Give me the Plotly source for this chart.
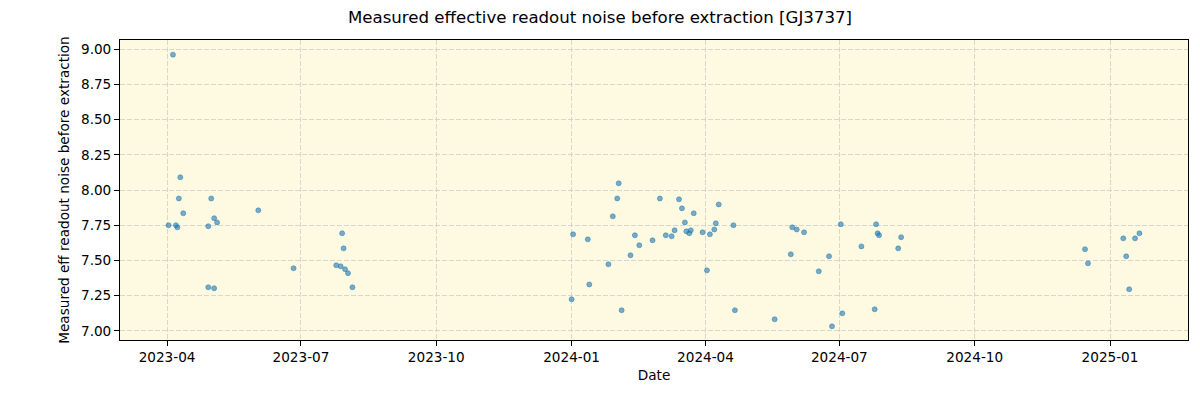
import plotly.graph_objects as go

dates = [
    "2023-04-05", "2023-04-10", "2023-04-09", "2023-05-01", "2023-04-12", "2023-04-02",
    "2023-04-07", "2023-04-08", "2023-04-29", "2023-05-03", "2023-05-05", "2023-06-02",
    "2023-04-29", "2023-05-03", "2023-06-26", "2023-07-29", "2023-07-30", "2023-07-25",
    "2023-07-28", "2023-07-31", "2023-08-02", "2023-08-05",
    "2024-01-02", "2024-01-01", "2024-01-12", "2024-01-13", "2024-01-26", "2024-01-29",
    "2024-02-01", "2024-02-02", "2024-02-04", "2024-02-10", "2024-02-13", "2024-02-16",
    "2024-02-25", "2024-03-01", "2024-03-05", "2024-03-09", "2024-03-11", "2024-03-14",
    "2024-03-16", "2024-03-18", "2024-03-19", "2024-03-21", "2024-03-22", "2024-03-24",
    "2024-03-30", "2024-04-02", "2024-04-04", "2024-04-07", "2024-04-08", "2024-04-10",
    "2024-04-20", "2024-04-21", "2024-05-18",
    "2024-05-30", "2024-06-02", "2024-06-07", "2024-05-29", "2024-06-24", "2024-06-17",
    "2024-07-02", "2024-06-26", "2024-07-03", "2024-07-16", "2024-07-25", "2024-07-26",
    "2024-07-27", "2024-07-28", "2024-08-12", "2024-08-10",
    "2024-12-15", "2024-12-17", "2025-01-10", "2025-01-12", "2025-01-14", "2025-01-18",
    "2025-01-21",
]
noise = [
    8.96, 8.09, 7.94, 7.94, 7.835, 7.75,
    7.75, 7.735, 7.743, 7.80, 7.77, 7.856,
    7.31, 7.303, 7.445, 7.693, 7.586, 7.466,
    7.459, 7.438, 7.41, 7.31,
    7.686, 7.225, 7.65, 7.33, 7.473, 7.813,
    7.94, 8.047, 7.147, 7.537, 7.679, 7.608,
    7.643, 7.94, 7.679, 7.672, 7.714, 7.934,
    7.87, 7.77, 7.707, 7.693, 7.714, 7.835,
    7.70, 7.43, 7.686, 7.72, 7.764, 7.898,
    7.75, 7.147, 7.083,
    7.735, 7.72, 7.70, 7.544, 7.53, 7.423,
    7.757, 7.033, 7.125, 7.60, 7.154, 7.757,
    7.693, 7.679, 7.665, 7.586,
    7.58, 7.48, 7.657, 7.53, 7.296, 7.657,
    7.693,
]
y_ticks = [7.00, 7.25, 7.50, 7.75, 8.00, 8.25, 8.50, 8.75, 9.00]

fig = go.Figure()
fig.add_trace(go.Scatter(
    x=dates, y=noise, mode="markers",
    marker=dict(size=5, color="rgba(31,119,180,0.6)",
                line=dict(width=0.6, color="rgba(31,119,180,0.8)")),
    showlegend=False,
))

axis_common = dict(
    showline=True, linecolor="black", linewidth=1, mirror=True,
    ticks="outside", ticklen=5, tickcolor="black",
    showgrid=True, gridcolor="rgba(200,200,200,0.7)", griddash="5px,2px", gridwidth=1,
    zeroline=False, tickfont=dict(size=13.6, color="black"), automargin=False,
)
fig.update_xaxes(
    **axis_common,
    type="date", range=["2023-02-28", "2025-02-23"],
    tick0="2023-04-01", dtick="M3", tickformat="%Y-%m",
    title=dict(text="Date", font=dict(size=13.6, color="black"), standoff=6),
)
fig.update_yaxes(
    **axis_common,
    range=[6.936, 9.064], tickvals=y_ticks, tickformat=".2f",
    title=dict(text="Measured eff readout noise before extraction", font=dict(size=13.6, color="black"), standoff=8),
)
fig.update_layout(
    width=1200, height=400,
    margin=dict(l=120, r=12, t=40, b=60),
    paper_bgcolor="white", plot_bgcolor="#fdfae1",
    font=dict(family="DejaVu Sans", color="black"),
    title=dict(text="Measured effective readout noise before extraction [GJ3737]",
               x=0.5, xanchor="center", y=0.958, yanchor="middle", font=dict(size=16.6)),
)
fig.write_html(
    "out.html",
    config={"displayModeBar": False},
    post_script="document.body.style.margin='0';document.body.style.overflow='hidden';",
)
